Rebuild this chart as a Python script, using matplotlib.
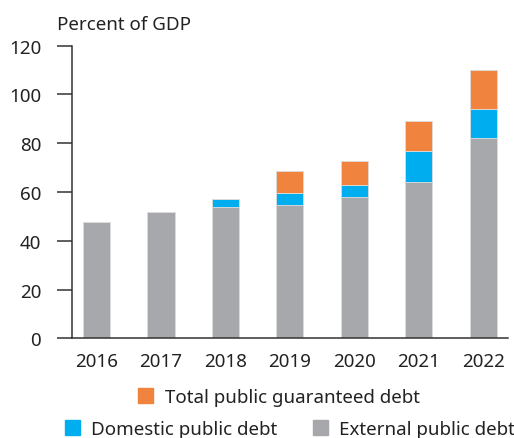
import numpy as np
import matplotlib
matplotlib.use("Agg")
import matplotlib.pyplot as plt
from matplotlib.patches import Patch

plt.rcParams['font.family'] = ['Noto Sans', 'DejaVu Sans']

years = ["2016", "2017", "2018", "2019", "2020", "2021", "2022"]
external = [47.7, 51.6, 53.7, 54.5, 57.9, 64.1, 82.1]
domestic = [0.0, 0.0, 3.4, 4.9, 4.9, 12.5, 12.0]
guaranteed = [0.0, 0.0, 0.0, 9.2, 10.0, 12.5, 15.9]

grey = "#A7A8AB"
blue = "#00AEEF"
orange = "#F0833E"
dark = "#333333"
fs = 13.5

fig = plt.figure(figsize=(5.14, 4.39), dpi=100)
ax = fig.add_axes([0.1395, 0.227, 0.8485, 0.667])

x = np.arange(len(years))
w = 0.42
ext = np.array(external)
dom = np.array(domestic)
gua = np.array(guaranteed)
ax.bar(x, ext, w, color=grey, edgecolor="#dcdcdc", linewidth=0.6)
ax.bar(x, dom, w, bottom=ext, color=blue, edgecolor="#dcdcdc", linewidth=0.6)
ax.bar(x, gua, w, bottom=ext + dom, color=orange, edgecolor="#dcdcdc", linewidth=0.6)

ax.set_xlim(-0.385, 6.38)
ax.set_ylim(0, 120)
ax.set_yticks(range(0, 121, 20))
ax.set_xticks(x)
ax.set_xticklabels(years)
for s in ["top", "right"]:
    ax.spines[s].set_visible(False)
for s in ["left", "bottom"]:
    ax.spines[s].set_color(dark)
    ax.spines[s].set_linewidth(1.1)
ax.tick_params(axis="y", direction="out", length=11, width=1.1, color=dark,
               pad=11, labelsize=fs, labelcolor="#222222")
ax.tick_params(axis="x", length=0, pad=10, labelsize=fs, labelcolor="#222222")

fig.text(57 / 514, 1 - 25 / 439, "Percent of GDP", fontsize=fs, color="#222222",
         ha="left", va="center")

h1 = [Patch(color=orange, label="Total public guaranteed debt")]
h2 = [Patch(color=blue, label="Domestic public debt"),
      Patch(color=grey, label="External public debt")]
leg_kw = dict(frameon=False, fontsize=fs, handlelength=0.8, handleheight=0.8,
              handletextpad=0.6, columnspacing=1.9, borderaxespad=0, borderpad=0,
              labelcolor="#222222")
fig.legend(handles=h1, loc="center", bbox_to_anchor=(279 / 514, 1 - 398 / 439), **leg_kw)
fig.legend(handles=h2, loc="center", ncol=2, bbox_to_anchor=(290 / 514, 1 - 430 / 439), **leg_kw)

fig.savefig("out.png", dpi=100)
